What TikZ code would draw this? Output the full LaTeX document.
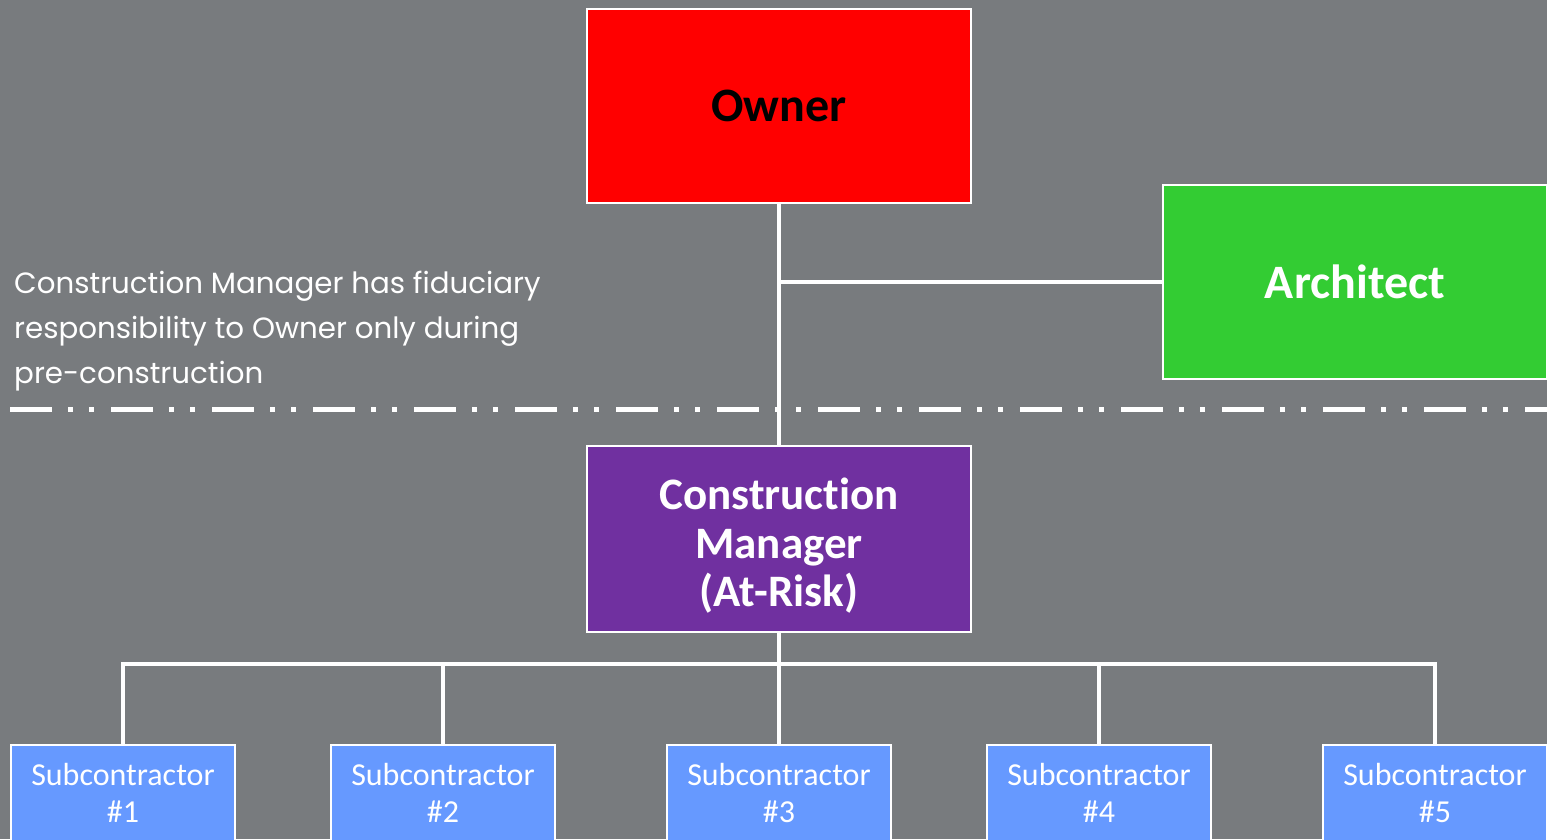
\documentclass[tikz,border=0pt]{standalone}
\usepackage{fontspec}
\setmainfont{Carlito}[Ligatures=CommonOff]
\newfontfamily\notefont{Poppins}
\begin{document}
\begin{tikzpicture}[x=1pt,y=-1pt,
  box/.style={draw=white,line width=2pt,inner sep=0pt,align=center},
  title/.style={box,minimum width=384pt,font=\bfseries\fontsize{48}{48}\selectfont},
  subbox/.style={box,fill=subblue,minimum width=224pt,minimum height=96pt,anchor=north,
    text=white,font=\fontsize{32}{37}\selectfont},
  link/.style={draw=white,line width=4pt},
  sep/.style={draw=white,line width=5pt,dash pattern=on 42pt off 16pt on 5pt off 16pt on 5pt off 17pt}]
\definecolor{bg}{RGB}{120,123,126}
\definecolor{ownerred}{RGB}{255,0,0}
\definecolor{archgreen}{RGB}{51,204,51}
\definecolor{cmpurple}{RGB}{112,48,160}
\definecolor{subblue}{RGB}{102,153,255}
\useasboundingbox (0,0) rectangle (1547,839);
\clip (0,0) rectangle (1547,839);
\fill[bg] (0,0) rectangle (1547,839);

% project parties
\node[title,fill=ownerred,minimum height=194pt] (owner) at (779,106) {Owner};
\node[title,fill=archgreen,minimum height=194pt,text=white] (arch) at (1355,282) {Architect};
\node[title,fill=cmpurple,minimum height=186pt] (cm) at (779,539) {};
\node[inner sep=0pt,align=center,text=white,font=\bfseries\fontsize{45}{48.5}\selectfont]
  (cmtext) at (779,546) {Construction\\Manager\\(At-Risk)};

% trade subcontractors
\node[subbox] (s1) at (123,744) {Subcontractor\\\#1};
\node[subbox] (s2) at (443,744) {Subcontractor\\\#2};
\node[subbox] (s3) at (779,744) {Subcontractor\\\#3};
\node[subbox] (s4) at (1099,744) {Subcontractor\\\#4};
\node[subbox] (s5) at (1435,744) {Subcontractor\\\#5};

% phase boundary
\coordinate (sepL) at (10,409);
\coordinate (sepR) at (1560,409);
\draw[sep] (sepL) -- (sepR);

% contract lines
\coordinate (bus) at (779,664);
\draw[link] (owner.south) -- (cm.north);
\draw[link] (owner.south |- arch.west) -- (arch.west);
\draw[link] (cm.south) -- (bus);
\draw[link] (s1.north) -- (s1.north |- bus) -- (s5.north |- bus) -- (s5.north);
\foreach \s in {s2,s3,s4} \draw[link] (\s.north |- bus) -- (\s.north);

% note
\node[anchor=north west,inner sep=0pt,text=white,align=left,
  font=\notefont\fontsize{29.3}{45}\selectfont] (note) at (14,271)
  {Construction Manager has fiduciary\\responsibility to Owner only during\\pre-construction};
\end{tikzpicture}
\end{document}
